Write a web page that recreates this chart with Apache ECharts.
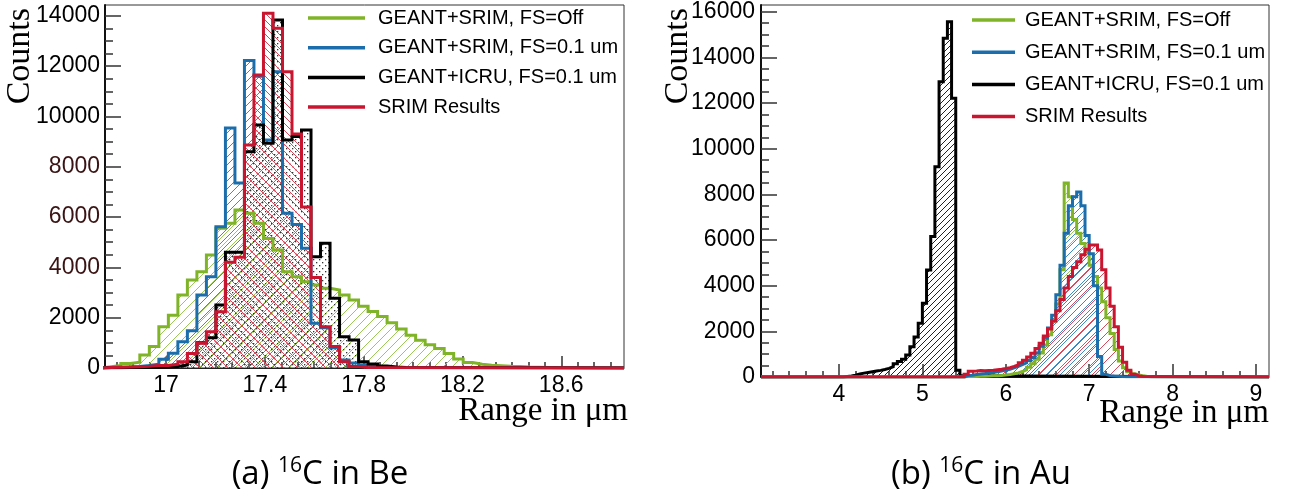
<!DOCTYPE html>
<html>
<head>
<meta charset="utf-8">
<script src="https://cdn.jsdelivr.net/npm/echarts@6/dist/echarts.min.js"></script>
<style>
html,body{margin:0;padding:0;background:#fff;}
#chart{width:1297px;height:497px;}
</style>
</head>
<body>
<div id="chart"></div>
<script>
// ---------------- DATA ----------------
const seriesNames = ['GEANT+SRIM, FS=Off', 'GEANT+SRIM, FS=0.1 um', 'GEANT+ICRU, FS=0.1 um', 'SRIM Results'];

// (a) 16C in Be
const beRange = [16.753, 18.854];
const beBinStart = 16.74;
const beBinWidth = 0.0385;
const beGreen = [50,100,180,230,520,850,1640,2100,2900,3500,3830,4490,5550,5750,6280,6150,5750,5150,4690,3830,3630,3430,3300,3170,3100,2900,2700,2450,2250,2050,1800,1550,1300,1100,920,780,580,360,220,150,110,90,70,60,40,30,20,10];
const beBlue = [20,30,40,60,100,150,345,583,1047,1480,2900,3630,5618,9536,7350,12225,11600,9063,11780,6150,5700,4760,1775,1600,800,320,200,120,60,40,20];
const beBlack = [10,10,15,20,25,30,40,60,120,250,1000,1200,2500,4600,4600,8600,9660,8930,13830,9060,9200,9460,4425,4955,2770,1245,1113,250,160,80,40,20];
const beRed = [20,30,40,50,70,100,100,150,250,580,980,1444,2240,4200,4400,8864,11650,14100,13500,11780,9300,6400,3600,1640,850,250,60,20];
const beXTicks = [17, 17.4, 17.8, 18.2, 18.6];
const beYTicks = [0, 2000, 4000, 6000, 8000, 10000, 12000, 14000];
const beYMax = 14429;

// (b) 16C in Au : bins of 0.05 um
const auRange = [3.065, 9.156];
const auBinWidth = 0.05;
const auBlackStart = 4.05;
const auBlack = [20,40,80,130,170,200,230,260,290,330,380,450,580,680,780,960,1330,1750,2350,3230,4690,6150,9210,12935,14834,15564,12206,300,50];
const auStart = 5.50;
const auGreen = [20,20,25,30,35,40,50,60,70,90,110,140,180,240,320,430,580,780,1050,1400,1850,2450,3200,4700,8500,7900,6900,6300,5850,5500,4900,4400,3900,3300,2600,1900,1200,700,400,230,140,90,50,25,10];
const auBlue = [60,80,110,130,150,180,200,230,260,300,340,400,470,540,620,720,850,1050,1350,1700,2150,2700,3600,4900,6300,7500,7900,8100,7500,6200,5400,4000,900,120,60,40,30,20,15,10];
const auRed = [120,250,260,280,270,290,300,320,340,370,410,460,530,620,730,880,1040,1250,1480,1800,2100,2450,2900,3400,3900,4400,4800,5050,5350,5600,5780,5780,5560,4700,3900,3100,2200,1300,650,300,120,50,20];
const auXTicks = [4, 5, 6, 7, 8, 9];
const auYTicks = [0, 2000, 4000, 6000, 8000, 10000, 12000, 14000, 16000];
const auYMax = 16294;

// ---------------- STYLE ----------------
const GREEN = '#7fb428', BLUE = '#1b6eab', BLACK = '#000000', RED = '#c9152f';
const colorOf = {};
colorOf[seriesNames[0]] = GREEN; colorOf[seriesNames[1]] = BLUE;
colorOf[seriesNames[2]] = BLACK; colorOf[seriesNames[3]] = RED;

function hatch(color, size, dir, lw) {
  const c = document.createElement('canvas');
  c.width = size; c.height = size;
  const g = c.getContext('2d');
  g.strokeStyle = color; g.lineWidth = lw; g.beginPath();
  for (let o = -size; o <= size; o += size) {
    if (dir === '/') { g.moveTo(o, size); g.lineTo(o + size, 0); }
    else { g.moveTo(o, 0); g.lineTo(o + size, size); }
  }
  g.stroke();
  return { image: c, repeat: 'repeat' };
}
function dots(color, size) {
  const c = document.createElement('canvas');
  c.width = size; c.height = size;
  const g = c.getContext('2d');
  g.fillStyle = color;
  g.fillRect(1, 1, 1.3, 1.3);
  g.fillRect(1 + size / 2, 1 + size / 2, 1.3, 1.3);
  return { image: c, repeat: 'repeat' };
}

function minorTicks(lo, hi, step, anchor) {
  const out = [];
  const k0 = Math.ceil((lo - anchor) / step - 1e-9);
  for (let k = k0; anchor + k * step <= hi + 1e-9; k++) out.push(+(anchor + k * step).toFixed(6));
  return out;
}

function hist(name, start, width, counts, range, pattern, xi, yi) {
  const color = colorOf[name];
  const pts = [[Math.min(range[0], start), 0]];
  counts.forEach((c, i) => pts.push([start + i * width, c]));
  const end = start + counts.length * width;
  pts.push([end, 0]);
  if (range[1] > end) pts.push([range[1], 0]);
  return {
    type: 'line', name: name, step: 'end', data: pts,
    xAxisIndex: xi, yAxisIndex: yi, symbol: 'none', silent: true,
    color: color, itemStyle: { color: color },
    lineStyle: { color: color, width: 3, join: 'miter' },
    areaStyle: { color: pattern, opacity: 1 }
  };
}

const tickLine = { color: '#333', width: 1.5 };
const labelFont = { fontFamily: 'Liberation Sans', fontSize: 23, color: '#000' };

function xAxes(grid, range, ticks, minorStep, majorLen, minorLen) {
  return [
    { gridIndex: grid, type: 'value', position: 'bottom', min: range[0], max: range[1],
      axisLine: { show: true, lineStyle: { color: '#222', width: 1 } },
      axisTick: { show: true, inside: true, length: majorLen, customValues: ticks, lineStyle: tickLine },
      axisLabel: Object.assign({ show: true, margin: 6, customValues: ticks, formatter: v => String(+(+v).toFixed(2)) }, labelFont),
      splitLine: { show: false } },
    { gridIndex: grid, type: 'value', position: 'bottom', min: range[0], max: range[1],
      axisLine: { show: false },
      axisTick: { show: true, inside: true, length: minorLen, customValues: minorTicks(range[0], range[1], minorStep, ticks[0]), lineStyle: tickLine },
      axisLabel: { show: false }, splitLine: { show: false } }
  ];
}
function yAxes(grid, max, ticks, labelColor, margin) {
  return [
    { gridIndex: grid, type: 'value', position: 'left', min: 0, max: max,
      axisLine: { show: true, onZero: false, lineStyle: { color: '#111', width: 2 } },
      axisTick: { show: true, inside: true, length: 16, customValues: ticks, lineStyle: tickLine },
      axisLabel: Object.assign({}, labelFont, { show: true, margin: margin, padding: [5, 0, 0, 0], customValues: ticks, formatter: v => String(v), color: labelColor }),
      splitLine: { show: false } },
    { gridIndex: grid, type: 'value', position: 'left', min: 0, max: max,
      axisLine: { show: false },
      axisTick: { show: true, inside: true, length: 8, customValues: minorTicks(0, max, 500, 0), lineStyle: tickLine },
      axisLabel: { show: false }, splitLine: { show: false } }
  ];
}

const beLabelColor = v => (v >= 4000 && v <= 8000) ? '#3a1414' : '#000';

const option = {
  animation: false,
  backgroundColor: '#fff',
  grid: [
    { left: 105, top: 5, width: 519, height: 363, show: true, borderColor: '#333', borderWidth: 1, backgroundColor: 'transparent', outerBoundsMode: 'none' },
    { left: 761, top: 5, width: 508, height: 372, show: true, borderColor: '#333', borderWidth: 1, backgroundColor: 'transparent', outerBoundsMode: 'none' }
  ],
  xAxis: [].concat(
    xAxes(0, beRange, beXTicks, 0.4 / 6, 12, 6),
    xAxes(1, auRange, auXTicks, 0.2, 13, 6)
  ),
  yAxis: [].concat(
    yAxes(0, beYMax, beYTicks, beLabelColor, 5),
    yAxes(1, auYMax, auYTicks, '#000', 6)
  ),
  legend: [
    { data: seriesNames.map(n => ({ name: n, itemStyle: { color: colorOf[n] } })),
      left: 308, top: 8, orient: 'vertical', padding: 0, icon: 'rect',
      itemWidth: 57, itemHeight: 3.5, itemGap: 9.7, selectedMode: false,
      textStyle: { fontFamily: 'Liberation Sans', fontSize: 20, color: '#000', lineHeight: 20, padding: [0, 0, 0, 8] } },
    { data: seriesNames.map(n => ({ name: n, itemStyle: { color: colorOf[n] } })),
      left: 972, top: 10, orient: 'vertical', padding: 0, icon: 'rect',
      itemWidth: 43, itemHeight: 3.5, itemGap: 12.2, selectedMode: false,
      textStyle: { fontFamily: 'Liberation Sans', fontSize: 20, color: '#000', lineHeight: 20, padding: [0, 0, 0, 5] } }
  ],
  series: [
    hist(seriesNames[0], beBinStart, beBinWidth, beGreen, beRange, hatch('#9cc85a', 9, '/', 1), 0, 0),
    hist(seriesNames[1], beBinStart, beBinWidth, beBlue, beRange, hatch('#3f8cc4', 8, '/', 1), 0, 0),
    hist(seriesNames[2], beBinStart, beBinWidth, beBlack, beRange, dots('#333', 6), 0, 0),
    hist(seriesNames[3], beBinStart, beBinWidth, beRed, beRange, hatch('#d9485a', 7, '\\', 1), 0, 0),
    hist(seriesNames[2], auBlackStart, auBinWidth, auBlack, auRange, hatch('#222', 6, '/', 1), 2, 2),
    hist(seriesNames[0], auStart, auBinWidth, auGreen, auRange, hatch('#9cc85a', 9, '/', 1), 2, 2),
    hist(seriesNames[1], auStart, auBinWidth, auBlue, auRange, hatch('#3f8cc4', 7, '/', 1), 2, 2),
    hist(seriesNames[3], auStart, auBinWidth, auRed, auRange, hatch('#d9485a', 9, '/', 1), 2, 2)
  ],
  graphic: [
    { type: 'text', x: 3, y: 8, rotation: Math.PI / 2, z: 100,
      style: { text: 'Counts', fontFamily: 'Liberation Serif', fontSize: 34, fill: '#000', align: 'right', verticalAlign: 'top' } },
    { type: 'text', x: 661, y: 8, rotation: Math.PI / 2, z: 100,
      style: { text: 'Counts', fontFamily: 'Liberation Serif', fontSize: 34, fill: '#000', align: 'right', verticalAlign: 'top' } },
    { type: 'text', x: 628, y: 411, z: 100,
      style: { text: 'Range in \u03bcm', fontFamily: 'Liberation Serif', fontSize: 33, fill: '#000', align: 'right', verticalAlign: 'middle' } },
    { type: 'text', x: 1269, y: 413, z: 100,
      style: { text: 'Range in \u03bcm', fontFamily: 'Liberation Serif', fontSize: 33, fill: '#000', align: 'right', verticalAlign: 'middle' } },
    { type: 'text', x: 320, y: 475, z: 100,
      style: { text: '{p|(a) }{s|16}{p|C in Be}', align: 'center', verticalAlign: 'middle',
        rich: { p: { fontFamily: 'Open Sans', fontSize: 33, fill: '#000', lineHeight: 38 },
                s: { fontFamily: 'Open Sans', fontSize: 21, fill: '#000', lineHeight: 22, verticalAlign: 'top' } } } },
    { type: 'text', x: 981, y: 475, z: 100,
      style: { text: '{p|(b) }{s|16}{p|C in Au}', align: 'center', verticalAlign: 'middle',
        rich: { p: { fontFamily: 'Open Sans', fontSize: 33, fill: '#000', lineHeight: 38 },
                s: { fontFamily: 'Open Sans', fontSize: 21, fill: '#000', lineHeight: 22, verticalAlign: 'top' } } } }
  ]
};

const chart = echarts.init(document.getElementById('chart'), null, { renderer: 'canvas' });
chart.setOption(option);
</script>
</body>
</html>
